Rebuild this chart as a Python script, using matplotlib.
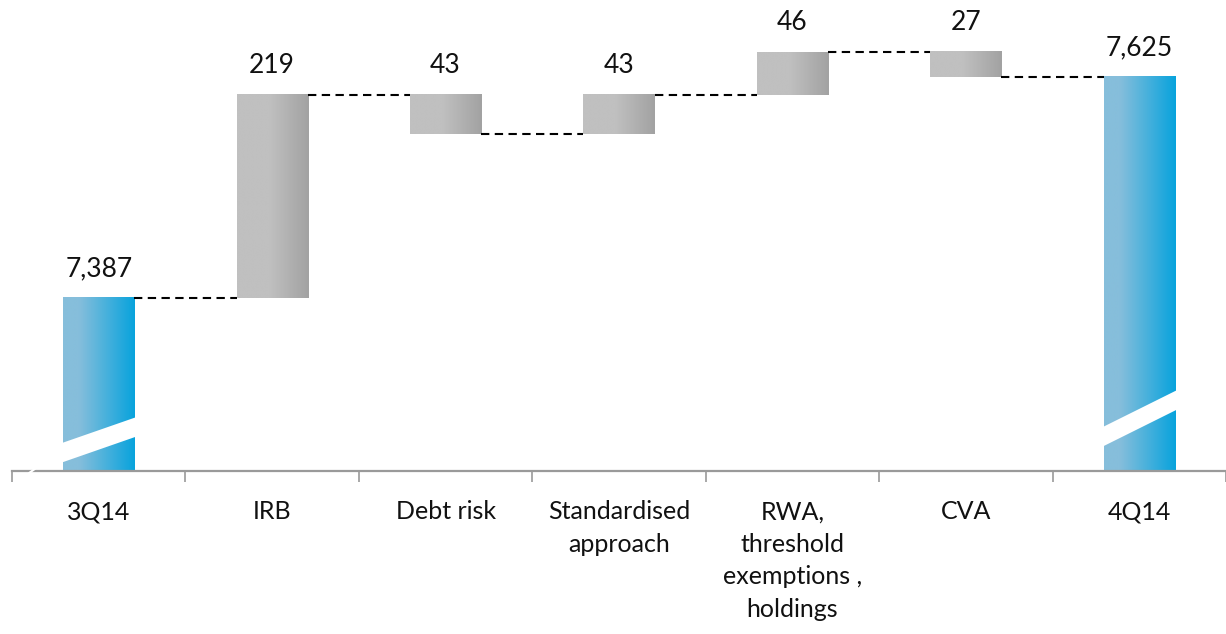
import numpy as np
import matplotlib.pyplot as plt
from matplotlib.colors import LinearSegmentedColormap
from matplotlib.patches import Polygon

# RWA bridge 3Q14 -> 4Q14
categories = ['3Q14', 'IRB', 'Debt risk', 'Standardised\napproach',
              'RWA,\nthreshold\nexemptions ,\nholdings', 'CVA', '4Q14']
changes = [7387, 219, -43, 43, 46, -27, 7625]
labels = ['7,387', '219', '43', '43', '46', '27', '7,625']
is_total = [True, False, False, False, False, False, True]

y_min, y_max = 7200, 7708

plt.rcParams['font.family'] = ['Lato', 'DejaVu Sans']

fig = plt.figure(figsize=(12.26, 6.34), dpi=100)
ax = fig.add_axes([12 / 1226, 163 / 634, 1214 / 1226, 471 / 634])
ax.set_xlim(-0.5, len(categories) - 0.5)
ax.set_ylim(y_min, y_max)

blue_cmap = LinearSegmentedColormap.from_list('b', ['#86bedb', '#08a3dd'])
gray_cmap = LinearSegmentedColormap.from_list('g', ['#c0c0c0', '#a2a2a2'])

t = np.linspace(0, 1, 200)
blue_grad = np.clip((t - 0.22) / 0.78, 0, 1)[None, :]
gray_grad = np.clip((t - 0.45) / 0.55, 0, 1)[None, :]

w = 0.41
level = 0
for i, ch in enumerate(changes):
    if is_total[i]:
        lo, hi = y_min, ch
        level = ch
    else:
        lo, hi = sorted([level, level + ch])
        level += ch
    cmap, grad = (blue_cmap, blue_grad) if is_total[i] else (gray_cmap, gray_grad)
    ax.imshow(grad, cmap=cmap, vmin=0, vmax=1, aspect='auto',
              extent=(i - w / 2, i + w / 2, lo, hi), zorder=2,
              interpolation='bilinear')
    ax.annotate(labels[i], (i, hi), xytext=(0, 12), textcoords='offset points',
                ha='center', va='bottom', fontsize=19, color='#111111')

# dashed connectors between consecutive bars
running = [changes[0]]
for ch in changes[1:-1]:
    running.append(running[-1] + ch)
for i, y in enumerate(running):
    ax.plot([i + w / 2, i + 1 - w / 2], [y, y], color='black', lw=1.5,
            dashes=(4, 2.6), zorder=3)

# white break bands on the total bars
def break_band(xc, y_left, y_right, thick):
    x0, x1 = xc - w / 2 - 0.01, xc + w / 2 + 0.01
    poly = Polygon([(x0, y_left), (x1, y_right), (x1, y_right + thick),
                    (x0, y_left + thick)], closed=True, facecolor='white',
                   edgecolor='none', zorder=4)
    ax.add_patch(poly)

break_band(0, 7209, 7237, 21)
break_band(6, 7226, 7266, 21)

ax.set_yticks([])
for s in ['left', 'right', 'top']:
    ax.spines[s].set_visible(False)
ax.spines['bottom'].set_color('#9a9a9a')
ax.spines['bottom'].set_linewidth(1.6)

ax.set_xticks(np.arange(-0.5, len(categories)))
ax.set_xticklabels([])
ax.tick_params(axis='x', length=8, width=1.2, color='#9a9a9a', direction='out')

for i, c in enumerate(categories):
    ax.annotate(c, (i, y_min), xytext=(0, -21), textcoords='offset points',
                ha='center', va='top', fontsize=18, color='#111111',
                linespacing=1.5, annotation_clip=False)

# small break mark on the axis line
ax.plot([-0.4, -0.37], [y_min - 2, y_min + 2], color='white',
        lw=1.5, clip_on=False, zorder=5)

fig.savefig('out.png', dpi=100)
